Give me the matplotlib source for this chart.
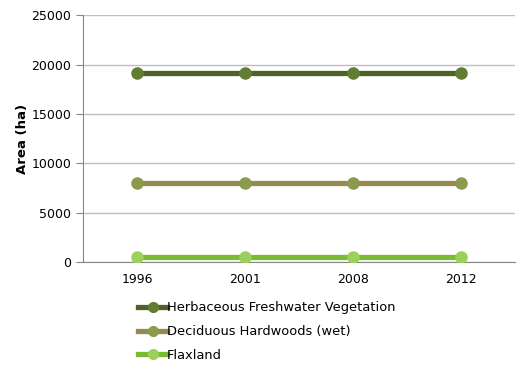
import matplotlib.pyplot as plt
from matplotlib.lines import Line2D

years = ['1996', '2001', '2008', '2012']
herbaceous = [19100, 19100, 19100, 19100]
deciduous = [8000, 8000, 8000, 8000]
flaxland = [500, 500, 500, 500]

series = [
    ('Herbaceous Freshwater Vegetation', herbaceous, '#4f6228', '#627d33'),
    ('Deciduous Hardwoods (wet)', deciduous, '#948a54', '#8c9a4c'),
    ('Flaxland', flaxland, '#7bbb34', '#9ccf5c'),
]

fig = plt.figure(figsize=(5.32, 3.74), dpi=100)
ax = fig.add_axes([0.156, 0.2995, 0.812, 0.66])

x = range(len(years))
handles = []
for label, vals, lc, mc in series:
    ax.plot(x, vals, color=lc, lw=3.8, zorder=3)
    ax.plot(x, vals, ls='none', marker='o', ms=8, mfc=mc, mec=mc, zorder=4)
    handles.append(Line2D([], [], color=lc, lw=3.8, marker='o', ms=7,
                          mfc=mc, mec=mc, label=label))

ax.set_xlim(-0.5, 3.5)
ax.set_ylim(0, 25000)
ax.set_yticks(range(0, 25001, 5000))
ax.set_xticks(list(x))
ax.set_xticklabels(years)
ax.yaxis.grid(True, color='#bfbfbf', lw=1)
ax.set_axisbelow(True)
for s in ['top', 'right']:
    ax.spines[s].set_visible(False)
ax.spines['left'].set_color('#868686')
ax.spines['bottom'].set_color('#868686')
ax.tick_params(axis='y', length=5, color='#868686', labelsize=9)
ax.tick_params(axis='x', length=0, labelsize=9, pad=8)
ax.set_ylabel('Area (ha)', fontsize=9.5, fontweight='bold', labelpad=2)

fig.legend(handles=handles, loc='upper left', bbox_to_anchor=(0.25, 0.208),
           frameon=False, fontsize=9.4, handlelength=2.2, handletextpad=0.0,
           labelspacing=0.82, borderaxespad=0)

fig.savefig('out.png', dpi=100)
